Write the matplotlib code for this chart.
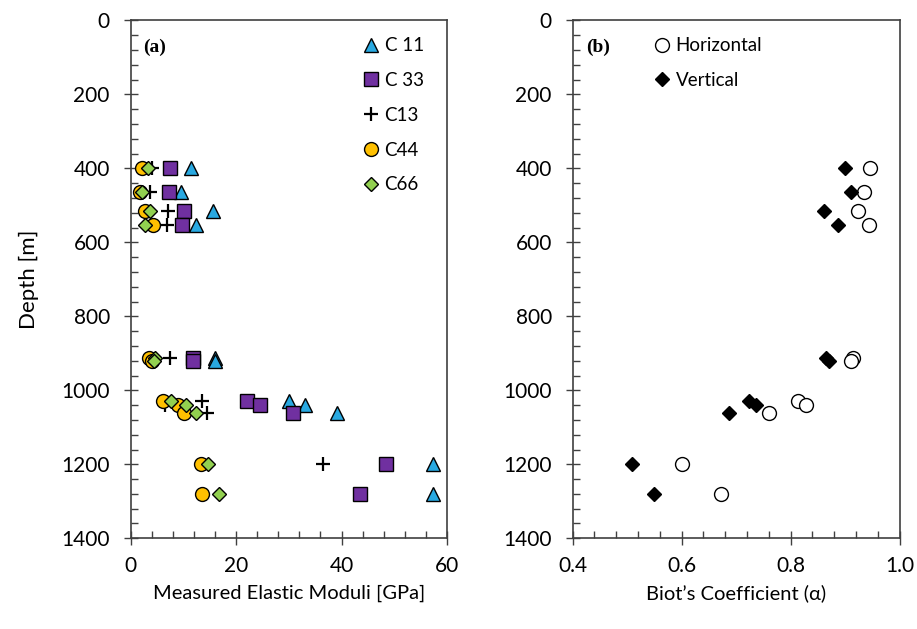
import numpy as np
import matplotlib.pyplot as plt
from matplotlib.ticker import MultipleLocator

plt.rcParams['font.family'] = ['Lato', 'DejaVu Sans']

# data
depth = [400, 463, 515, 553, 912, 920, 1030, 1040, 1060, 1200, 1280]
c11 = [11.5, 9.5, 15.7, 12.4, 15.9, 15.9, 30.1, 33.1, 39.2, 57.3, 57.3]
c33 = [7.5, 7.3, 10.1, 9.7, 11.9, 11.9, 22.0, 24.6, 30.8, 48.5, 43.5]
c13 = [4.0, 3.7, 7.1, 6.8, 7.5, 3.8, 13.5, 6.5, 14.5, 36.5, np.nan]
c44 = [2.2, 1.8, 2.8, 4.3, 3.5, 4.0, 6.2, 8.9, 10.1, 13.4, 13.5]
c66 = [3.3, 2.1, 3.7, 2.7, 4.6, 4.4, 7.6, 10.4, 12.3, 14.6, 16.8]

biot_h = [0.945, 0.935, 0.923, 0.944, 0.915, 0.91, 0.813, 0.829, 0.761, 0.601, 0.672]
biot_v = [0.90, 0.91, 0.862, 0.886, 0.865, 0.87, 0.724, 0.737, 0.687, 0.508, 0.549]

fig = plt.figure(figsize=(9.17, 6.29), dpi=100)
ax1 = fig.add_axes([0.1425, 0.1442, 0.345, 0.8235])
ax2 = fig.add_axes([0.6245, 0.1442, 0.3566, 0.8235])

# panel (a)
ax1.plot(c11, depth, ls='none', marker='^', ms=9.5, mfc='#29A9E1', mec='black', mew=1, label='C 11')
ax1.plot(c33, depth, ls='none', marker='s', ms=9.5, mfc='#7030A0', mec='black', mew=1, label='C 33')
ax1.plot(c13, depth, ls='none', marker='+', ms=10, mec='black', mew=1.6, label='C13')
ax1.plot(c44, depth, ls='none', marker='o', ms=10, mfc='#FFC000', mec='black', mew=1, label='C44')
ax1.plot(c66, depth, ls='none', marker='D', ms=7, mfc='#92D050', mec='black', mew=1, label='C66')
ax1.set_xlim(0, 60)
ax1.set_ylim(1400, 0)
ax1.xaxis.set_major_locator(MultipleLocator(20))
ax1.xaxis.set_minor_locator(MultipleLocator(4))
ax1.set_xlabel('Measured Elastic Moduli [GPa]', fontsize=14.5, labelpad=6)
ax1.set_ylabel('Depth [m]', fontsize=16, labelpad=16)
ax1.text(0.04, 0.965, '(a)', transform=ax1.transAxes, fontsize=14, fontweight='bold',
         family='Liberation Serif', va='top')
ax1.legend(loc='upper right', bbox_to_anchor=(0.98, 1.0), frameon=False, fontsize=13.5,
           handlelength=0.8, handletextpad=0.3, labelspacing=0.95, borderaxespad=0.5)

# panel (b)
ax2.plot(biot_h, depth, ls='none', marker='o', ms=10, mfc='white', mec='black', mew=1, label='Horizontal')
ax2.plot(biot_v, depth, ls='none', marker='D', ms=7.5, mfc='black', mec='black', mew=1, label='Vertical')
ax2.set_xlim(0.4, 1.0)
ax2.set_ylim(1400, 0)
ax2.xaxis.set_major_locator(MultipleLocator(0.2))
ax2.xaxis.set_minor_locator(MultipleLocator(0.04))
ax2.xaxis.set_major_formatter(lambda v, p: f'{v:.1f}')
ax2.set_xlabel('Biot\u2019s Coefficient (\u03b1)', fontsize=14.5, labelpad=6)
ax2.text(0.04, 0.965, '(b)', transform=ax2.transAxes, fontsize=14, fontweight='bold',
         family='Liberation Serif', va='top')
ax2.legend(loc='upper left', bbox_to_anchor=(0.2, 1.0), frameon=False, fontsize=13.5,
           handlelength=0.8, handletextpad=0.3, labelspacing=0.95, borderaxespad=0.5)

for ax in (ax1, ax2):
    ax.yaxis.set_major_locator(MultipleLocator(200))
    ax.yaxis.set_minor_locator(MultipleLocator(40))
    ax.tick_params(which='major', direction='inout', length=10, width=1, labelsize=15, color='#404040')
    ax.tick_params(axis='y', which='major', pad=10)
    ax.tick_params(axis='x', which='major', pad=8)
    ax.tick_params(which='minor', direction='in', length=5, width=1, color='#404040')
    for s in ax.spines.values():
        s.set_color('#404040')
        s.set_linewidth(1.2)

fig.savefig('out.png', dpi=100)
